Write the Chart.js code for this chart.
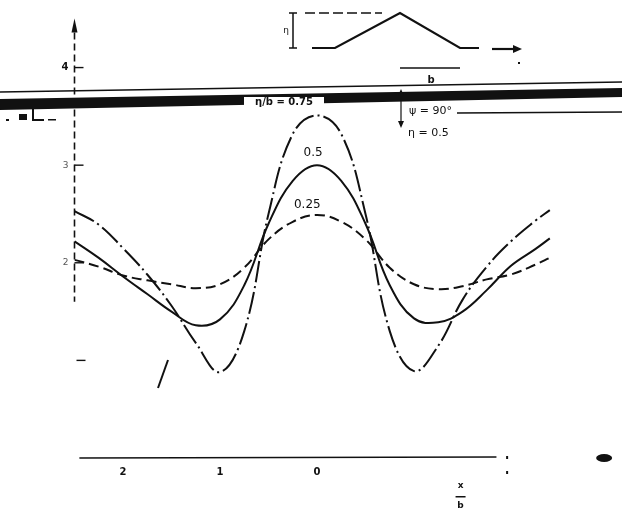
<!DOCTYPE html>
<html>
<head>
<meta charset="utf-8">
<script src="https://cdn.jsdelivr.net/npm/chart.js@4"></script>
<style>
  html, body { margin: 0; padding: 0; background: #fff; }
  canvas { display: block; }
</style>
</head>
<body>
<canvas id="myChart" width="622" height="512"></canvas>
<script>
// x/b positions along the profile
const xValues = [-2.5, -2.25, -2, -1.75, -1.5, -1.25, -1, -0.75, -0.5, -0.25, 0,
                 0.25, 0.5, 0.75, 1, 1.25, 1.5, 1.75, 2, 2.25, 2.4];

// curves, one per eta/b
const eta075 = [2.53, 2.39, 2.15, 1.88, 1.56, 1.18, 0.88, 1.3, 2.5, 3.32, 3.51,
                3.32, 2.5, 1.3, 0.89, 1.15, 1.62, 1.96, 2.22, 2.43, 2.54];
const eta050 = [2.22, 2.05, 1.86, 1.68, 1.5, 1.36, 1.42, 1.77, 2.4, 2.84, 3.0,
                2.84, 2.4, 1.77, 1.43, 1.39, 1.5, 1.72, 1.97, 2.14, 2.25];
const eta025 = [2.03, 1.96, 1.87, 1.82, 1.78, 1.74, 1.78, 1.95, 2.24, 2.42, 2.49,
                2.42, 2.24, 1.95, 1.78, 1.73, 1.76, 1.83, 1.88, 1.98, 2.05];

const yTicks = [1, 2, 3, 4];
const yTickLabels = ['', '2', '3', '4'];
const xTicks = [-2, -1, 0];
const xTickLabels = ['2', '1', '0'];

const ink = '#111';

const toPoints = arr => xValues.map((x, i) => ({ x: x, y: arr[i] }));

// axes, inset sketch and the scanned annotations
const figureDecor = {
  id: 'figureDecor',
  beforeDatasetsDraw(chart) {
    const ctx = chart.ctx;
    const sx = chart.scales.x, sy = chart.scales.y;
    const ax = sx.getPixelForValue(-2.5);
    ctx.save();
    ctx.strokeStyle = ink;
    ctx.fillStyle = ink;

    // broken vertical axis with arrow
    ctx.lineWidth = 1.6;
    ctx.setLineDash([7, 4]);
    ctx.beginPath();
    ctx.moveTo(ax, sy.getPixelForValue(4.36));
    ctx.lineTo(ax, sy.getPixelForValue(1.6));
    ctx.stroke();
    ctx.setLineDash([]);
    const top = sy.getPixelForValue(4.36);
    ctx.beginPath();
    ctx.moveTo(ax, top - 14);
    ctx.lineTo(ax - 3, top);
    ctx.lineTo(ax + 3, top);
    ctx.closePath();
    ctx.fill();

    // y ticks
    ctx.lineWidth = 1.4;
    ctx.textAlign = 'right';
    ctx.textBaseline = 'middle';
    yTicks.forEach((v, i) => {
      const py = sy.getPixelForValue(v);
      ctx.beginPath();
      ctx.moveTo(ax + (v === 1 ? 2 : 0), py);
      ctx.lineTo(ax + (v === 1 ? 11 : 9), py);
      ctx.stroke();
      if (yTickLabels[i]) {
        ctx.fillStyle = v === 4 ? ink : '#555';
        ctx.font = v === 4 ? 'bold 10px "DejaVu Sans"' : '9px "DejaVu Sans"';
        ctx.fillText(yTickLabels[i], ax - 6, py);
      }
    });
    ctx.fillStyle = ink;

    // horizontal axis
    const py0 = sy.getPixelForValue(0);
    ctx.lineWidth = 1.5;
    ctx.beginPath();
    ctx.moveTo(sx.getPixelForValue(-2.45), py0);
    ctx.lineTo(sx.getPixelForValue(1.85), py0 - 1);
    ctx.stroke();
    ctx.fillRect(sx.getPixelForValue(1.96) - 1, py0 - 2, 2, 3);
    ctx.fillRect(sx.getPixelForValue(1.96) - 1, py0 + 13, 2, 3);
    ctx.font = 'bold 10px "DejaVu Sans"';
    ctx.textAlign = 'center';
    xTicks.forEach((v, i) => {
      ctx.fillText(xTickLabels[i], sx.getPixelForValue(v), py0 + 14);
    });

    // x/b fraction
    const fx = sx.getPixelForValue(1.48);
    ctx.font = 'bold 9px "DejaVu Sans"';
    ctx.fillText('x', fx, py0 + 28);
    ctx.fillRect(fx - 5, py0 + 38, 10, 1.5);
    ctx.fillText('b', fx, py0 + 48);

    // blob at right
    ctx.beginPath();
    ctx.ellipse(sx.getPixelForValue(2.96), py0, 8, 4, 0, 0, Math.PI * 2);
    ctx.fill();
    ctx.restore();
  },
  afterDatasetsDraw(chart) {
    const ctx = chart.ctx;
    const sx = chart.scales.x;
    ctx.save();
    ctx.strokeStyle = ink;
    ctx.fillStyle = ink;

    // thick scanned band with thin line above
    ctx.beginPath();
    ctx.moveTo(0, 99);
    ctx.lineTo(622, 88);
    ctx.lineTo(622, 97);
    ctx.lineTo(0, 110);
    ctx.closePath();
    ctx.fill();
    ctx.lineWidth = 1.5;
    ctx.beginPath();
    ctx.moveTo(0, 92);
    ctx.lineTo(622, 82);
    ctx.stroke();

    // text sitting in the band
    ctx.fillStyle = '#fff';
    ctx.fillRect(244, 97, 80, 9);
    ctx.fillStyle = ink;
    ctx.font = 'bold 10px "DejaVu Sans"';
    ctx.textAlign = 'center';
    ctx.textBaseline = 'middle';
    ctx.fillText('\u03B7/b = 0.75', 284, 102);

    // curve labels
    ctx.font = '12px "DejaVu Sans"';
    ctx.fillText('0.5', sx.getPixelForValue(-0.04), 153);
    ctx.fillText('0.25', sx.getPixelForValue(-0.1), 205);

    // psi / eta annotations at right
    ctx.lineWidth = 1.2;
    ctx.beginPath();
    ctx.moveTo(401, 92);
    ctx.lineTo(401, 125);
    ctx.stroke();
    ctx.beginPath();
    ctx.moveTo(401, 89); ctx.lineTo(398, 96); ctx.lineTo(404, 96); ctx.closePath();
    ctx.moveTo(401, 128); ctx.lineTo(398, 121); ctx.lineTo(404, 121); ctx.closePath();
    ctx.fill();
    ctx.font = '11px "DejaVu Sans"';
    ctx.textAlign = 'left';
    ctx.fillText('\u03C8 = 90\u00B0', 409, 111);
    ctx.fillText('\u03B7 = 0.5', 408, 133);
    ctx.lineWidth = 1.5;
    ctx.beginPath();
    ctx.moveTo(457, 113);
    ctx.lineTo(622, 112);
    ctx.stroke();

    // bits of scan noise on the left and the stray slash
    ctx.fillRect(19, 114, 8, 6);
    ctx.fillRect(6, 119, 3, 2);
    ctx.fillRect(32, 109, 2, 11);
    ctx.fillRect(32, 119, 12, 2);
    ctx.fillRect(48, 119, 8, 1.5);
    ctx.lineWidth = 2;
    ctx.beginPath();
    ctx.moveTo(168, 360);
    ctx.lineTo(158, 388);
    ctx.stroke();

    // inset: wave profile sketch
    ctx.lineWidth = 1.5;
    ctx.setLineDash([10, 4]);
    ctx.beginPath();
    ctx.moveTo(305, 13);
    ctx.lineTo(382, 13);
    ctx.stroke();
    ctx.setLineDash([]);
    ctx.beginPath();
    ctx.moveTo(293, 13); ctx.lineTo(293, 48);
    ctx.moveTo(289, 13); ctx.lineTo(297, 13);
    ctx.moveTo(289, 48); ctx.lineTo(297, 48);
    ctx.stroke();
    ctx.font = '9px "DejaVu Sans"';
    ctx.textAlign = 'right';
    ctx.fillText('\u03B7', 289, 31);
    ctx.lineWidth = 2.2;
    ctx.beginPath();
    ctx.moveTo(312, 48);
    ctx.lineTo(335, 48);
    ctx.lineTo(400, 13);
    ctx.lineTo(460, 48);
    ctx.lineTo(479, 48);
    ctx.stroke();
    ctx.beginPath();
    ctx.moveTo(492, 49);
    ctx.lineTo(514, 49);
    ctx.stroke();
    ctx.beginPath();
    ctx.moveTo(522, 49); ctx.lineTo(513, 45); ctx.lineTo(513, 53); ctx.closePath();
    ctx.fill();
    ctx.fillRect(518, 62, 2, 2);
    ctx.lineWidth = 1.5;
    ctx.beginPath();
    ctx.moveTo(400, 68);
    ctx.lineTo(460, 68);
    ctx.stroke();
    ctx.textAlign = 'center';
    ctx.font = 'bold 10px "DejaVu Sans"';
    ctx.fillText('b', 431, 80);
    ctx.restore();
  }
};

const ctx = document.getElementById('myChart').getContext('2d');
const myChart = new Chart(ctx, {
  type: 'line',
  data: {
    datasets: [
      {
        label: '\u03B7/b = 0.75',
        data: toPoints(eta075),
        borderColor: ink,
        borderWidth: 2,
        borderDash: [22, 4, 2, 4],
        pointRadius: 0,
        tension: 0.4
      },
      {
        label: '0.5',
        data: toPoints(eta050),
        borderColor: ink,
        borderWidth: 2,
        pointRadius: 0,
        tension: 0.4
      },
      {
        label: '0.25',
        data: toPoints(eta025),
        borderColor: ink,
        borderWidth: 2,
        borderDash: [10, 5],
        pointRadius: 0,
        tension: 0.4
      }
    ]
  },
  options: {
    responsive: false,
    animation: false,
    devicePixelRatio: 1,
    layout: { padding: { left: 74.5, right: 14, top: 9, bottom: 5.2 } },
    plugins: {
      legend: { display: false },
      tooltip: { enabled: false }
    },
    scales: {
      x: { type: 'linear', min: -2.5, max: 3, display: false },
      y: { type: 'linear', min: -0.5, max: 4.6, display: false }
    }
  },
  plugins: [figureDecor]
});
</script>
</body>
</html>
